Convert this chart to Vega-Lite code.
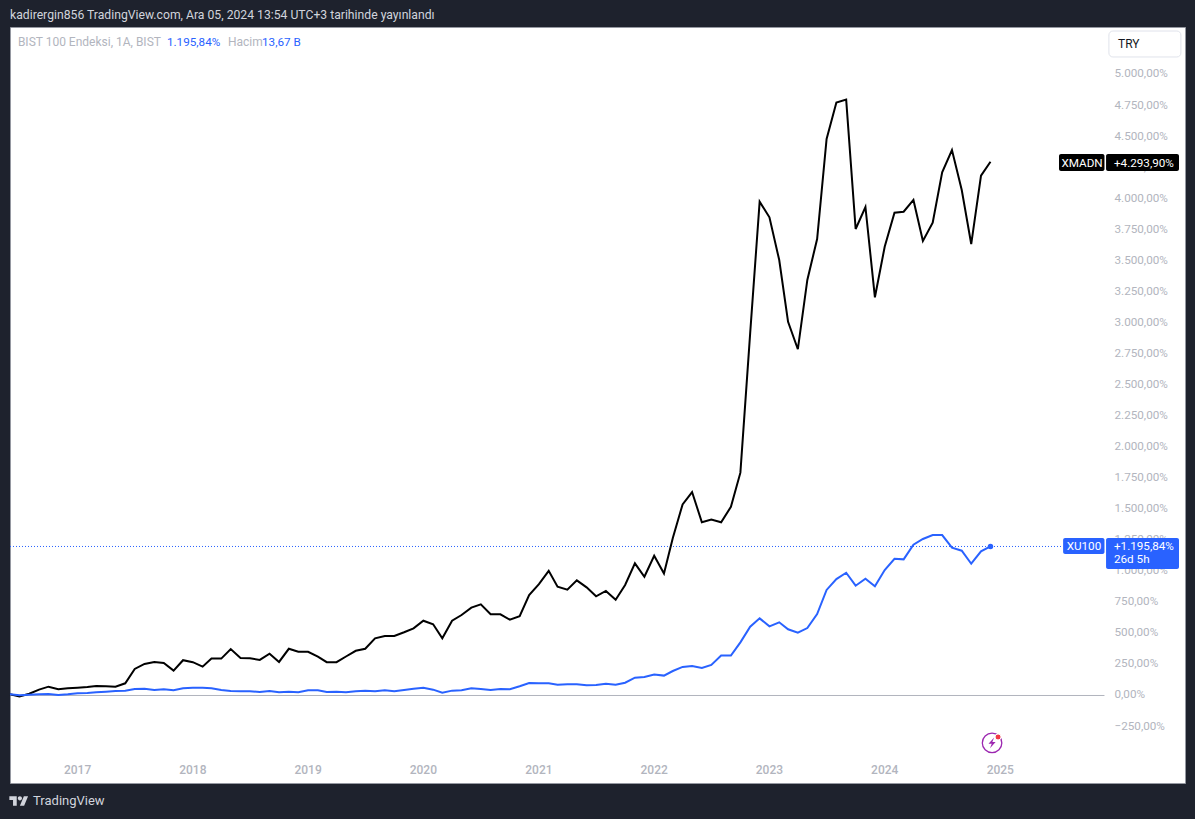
{
  "$schema": "https://vega.github.io/schema/vega-lite/v6.json",
  "width": 1175,
  "height": 756,
  "autosize": "none",
  "padding": {"left": 10, "top": 27, "right": 10, "bottom": 36},
  "background": "#1e222d",
  "view": {"fill": "#ffffff", "stroke": "#9598a1", "strokeWidth": 1},
  "config": {"font": "Roboto"},
  "data": {"name": "prices", "values": [
    {"date": "2016-06-01", "XU100": 6, "XMADN": 6},
    {"date": "2016-07-01", "XU100": -3, "XMADN": -11},
    {"date": "2016-08-01", "XU100": 2, "XMADN": 10},
    {"date": "2016-09-01", "XU100": 6, "XMADN": 43},
    {"date": "2016-10-01", "XU100": 8, "XMADN": 67},
    {"date": "2016-11-01", "XU100": 0, "XMADN": 46},
    {"date": "2016-12-01", "XU100": 6, "XMADN": 54},
    {"date": "2017-01-01", "XU100": 14, "XMADN": 59},
    {"date": "2017-02-01", "XU100": 16, "XMADN": 64},
    {"date": "2017-03-01", "XU100": 22, "XMADN": 73},
    {"date": "2017-04-01", "XU100": 27, "XMADN": 70},
    {"date": "2017-05-01", "XU100": 32, "XMADN": 67},
    {"date": "2017-06-01", "XU100": 35, "XMADN": 94},
    {"date": "2017-07-01", "XU100": 48, "XMADN": 210},
    {"date": "2017-08-01", "XU100": 51, "XMADN": 250},
    {"date": "2017-09-01", "XU100": 40, "XMADN": 266},
    {"date": "2017-10-01", "XU100": 46, "XMADN": 258},
    {"date": "2017-11-01", "XU100": 38, "XMADN": 196},
    {"date": "2017-12-01", "XU100": 54, "XMADN": 280},
    {"date": "2018-01-01", "XU100": 59, "XMADN": 264},
    {"date": "2018-02-01", "XU100": 59, "XMADN": 228},
    {"date": "2018-03-01", "XU100": 54, "XMADN": 293},
    {"date": "2018-04-01", "XU100": 40, "XMADN": 293},
    {"date": "2018-05-01", "XU100": 32, "XMADN": 370},
    {"date": "2018-06-01", "XU100": 30, "XMADN": 298},
    {"date": "2018-07-01", "XU100": 30, "XMADN": 296},
    {"date": "2018-08-01", "XU100": 24, "XMADN": 282},
    {"date": "2018-09-01", "XU100": 32, "XMADN": 332},
    {"date": "2018-10-01", "XU100": 22, "XMADN": 266},
    {"date": "2018-11-01", "XU100": 27, "XMADN": 372},
    {"date": "2018-12-01", "XU100": 22, "XMADN": 348},
    {"date": "2019-01-01", "XU100": 38, "XMADN": 348},
    {"date": "2019-02-01", "XU100": 38, "XMADN": 309},
    {"date": "2019-03-01", "XU100": 24, "XMADN": 264},
    {"date": "2019-04-01", "XU100": 27, "XMADN": 264},
    {"date": "2019-05-01", "XU100": 22, "XMADN": 310},
    {"date": "2019-06-01", "XU100": 30, "XMADN": 356},
    {"date": "2019-07-01", "XU100": 35, "XMADN": 372},
    {"date": "2019-08-01", "XU100": 30, "XMADN": 456},
    {"date": "2019-09-01", "XU100": 38, "XMADN": 475},
    {"date": "2019-10-01", "XU100": 30, "XMADN": 475},
    {"date": "2019-11-01", "XU100": 40, "XMADN": 505},
    {"date": "2019-12-01", "XU100": 51, "XMADN": 537},
    {"date": "2020-01-01", "XU100": 59, "XMADN": 598},
    {"date": "2020-02-01", "XU100": 43, "XMADN": 569},
    {"date": "2020-03-01", "XU100": 18, "XMADN": 456},
    {"date": "2020-04-01", "XU100": 35, "XMADN": 598},
    {"date": "2020-05-01", "XU100": 38, "XMADN": 644},
    {"date": "2020-06-01", "XU100": 54, "XMADN": 703},
    {"date": "2020-07-01", "XU100": 48, "XMADN": 730},
    {"date": "2020-08-01", "XU100": 40, "XMADN": 650},
    {"date": "2020-09-01", "XU100": 48, "XMADN": 650},
    {"date": "2020-10-01", "XU100": 46, "XMADN": 606},
    {"date": "2020-11-01", "XU100": 70, "XMADN": 634},
    {"date": "2020-12-01", "XU100": 97, "XMADN": 805},
    {"date": "2021-01-01", "XU100": 94, "XMADN": 892},
    {"date": "2021-02-01", "XU100": 94, "XMADN": 1000},
    {"date": "2021-03-01", "XU100": 83, "XMADN": 872},
    {"date": "2021-04-01", "XU100": 86, "XMADN": 848},
    {"date": "2021-05-01", "XU100": 86, "XMADN": 923},
    {"date": "2021-06-01", "XU100": 78, "XMADN": 867},
    {"date": "2021-07-01", "XU100": 81, "XMADN": 795},
    {"date": "2021-08-01", "XU100": 91, "XMADN": 838},
    {"date": "2021-09-01", "XU100": 83, "XMADN": 767},
    {"date": "2021-10-01", "XU100": 99, "XMADN": 886},
    {"date": "2021-11-01", "XU100": 139, "XMADN": 1060},
    {"date": "2021-12-01", "XU100": 145, "XMADN": 952},
    {"date": "2022-01-01", "XU100": 164, "XMADN": 1121},
    {"date": "2022-02-01", "XU100": 156, "XMADN": 978},
    {"date": "2022-03-01", "XU100": 193, "XMADN": 1264},
    {"date": "2022-04-01", "XU100": 226, "XMADN": 1535},
    {"date": "2022-05-01", "XU100": 234, "XMADN": 1634},
    {"date": "2022-06-01", "XU100": 218, "XMADN": 1391},
    {"date": "2022-07-01", "XU100": 242, "XMADN": 1412},
    {"date": "2022-08-01", "XU100": 317, "XMADN": 1391},
    {"date": "2022-09-01", "XU100": 317, "XMADN": 1515},
    {"date": "2022-10-01", "XU100": 424, "XMADN": 1790},
    {"date": "2022-11-01", "XU100": 550, "XMADN": 2914},
    {"date": "2022-12-01", "XU100": 617, "XMADN": 3972},
    {"date": "2023-01-01", "XU100": 553, "XMADN": 3846},
    {"date": "2023-02-01", "XU100": 585, "XMADN": 3502},
    {"date": "2023-03-01", "XU100": 529, "XMADN": 3005},
    {"date": "2023-04-01", "XU100": 501, "XMADN": 2784},
    {"date": "2023-05-01", "XU100": 539, "XMADN": 3342},
    {"date": "2023-06-01", "XU100": 652, "XMADN": 3671},
    {"date": "2023-07-01", "XU100": 846, "XMADN": 4477},
    {"date": "2023-08-01", "XU100": 933, "XMADN": 4770},
    {"date": "2023-09-01", "XU100": 984, "XMADN": 4794},
    {"date": "2023-10-01", "XU100": 880, "XMADN": 3752},
    {"date": "2023-11-01", "XU100": 936, "XMADN": 3929},
    {"date": "2023-12-01", "XU100": 876, "XMADN": 3202},
    {"date": "2024-01-01", "XU100": 1006, "XMADN": 3609},
    {"date": "2024-02-01", "XU100": 1097, "XMADN": 3883},
    {"date": "2024-03-01", "XU100": 1092, "XMADN": 3891},
    {"date": "2024-04-01", "XU100": 1210, "XMADN": 3986},
    {"date": "2024-05-01", "XU100": 1256, "XMADN": 3655},
    {"date": "2024-06-01", "XU100": 1288, "XMADN": 3803},
    {"date": "2024-07-01", "XU100": 1288, "XMADN": 4208},
    {"date": "2024-08-01", "XU100": 1186, "XMADN": 4388},
    {"date": "2024-09-01", "XU100": 1162, "XMADN": 4066},
    {"date": "2024-10-01", "XU100": 1057, "XMADN": 3631},
    {"date": "2024-11-01", "XU100": 1157, "XMADN": 4181},
    {"date": "2024-12-01", "XU100": 1195.84, "XMADN": 4293.9}
  ], "format": {"parse": {"date": "date"}}},
  "encoding": {
    "x": {
      "field": "date",
      "type": "temporal",
      "title": null,
      "scale": {"domain": [{"year": 2016, "month": 6, "date": 1}, {"year": 2026, "month": 8, "date": 9}]},
      "axis": {
        "orient": "bottom",
        "offset": -14,
        "values": [
          {"year": 2017, "month": 1, "date": 1},
          {"year": 2018, "month": 1, "date": 1},
          {"year": 2019, "month": 1, "date": 1},
          {"year": 2020, "month": 1, "date": 1},
          {"year": 2021, "month": 1, "date": 1},
          {"year": 2022, "month": 1, "date": 1},
          {"year": 2023, "month": 1, "date": 1},
          {"year": 2024, "month": 1, "date": 1},
          {"year": 2025, "month": 1, "date": 1}
        ],
        "format": "%Y",
        "grid": false,
        "ticks": false,
        "domain": false,
        "labelPadding": 0,
        "labelOffset": -0.5,
        "labelBaseline": "middle",
        "labelFont": "Roboto",
        "labelFontSize": 12,
        "labelFontWeight": 500,
        "labelColor": "#b2b5be",
        "labelOverlap": false
      }
    },
    "y": {
      "field": "value",
      "type": "quantitative",
      "title": null,
      "scale": {"domain": [-708.6, 5378.4], "nice": false, "zero": false},
      "axis": {
        "orient": "right",
        "offset": -71,
        "values": [-250, 0, 250, 500, 750, 1000, 1250, 1500, 1750, 2000, 2250, 2500, 2750, 3000, 3250, 3500, 3750, 4000, 4250, 4500, 4750, 5000],
        "labelExpr": "replace(replace(replace(format(datum.value,',.2f'),',','#'),'.',','),'#','.')+'%'",
        "grid": false,
        "ticks": false,
        "domain": false,
        "labelPadding": 0,
        "labelOffset": -1,
        "labelFont": "Roboto",
        "labelFontSize": 11.7,
        "labelColor": "#b2b5be",
        "labelOverlap": false
      }
    }
  },
  "layer": [
    {
      "data": {"values": [{"date": "2016-06-01", "date2": "2025-11-27", "value": 0}], "format": {"parse": {"date": "date", "date2": "date"}}},
      "mark": {"type": "rule", "color": "#b2b5be", "strokeWidth": 1, "yOffset": 0.5},
      "encoding": {"x2": {"field": "date2"}}
    },
    {
      "data": {"values": [{"date": "2016-06-01", "date2": "2025-07-19", "value": 1195.84}], "format": {"parse": {"date": "date", "date2": "date"}}},
      "mark": {"type": "rule", "color": "#2962ff", "strokeWidth": 1, "strokeDash": [1, 2]},
      "encoding": {"x2": {"field": "date2"}}
    },
    {
      "mark": {"type": "line", "color": "#000000", "strokeWidth": 2, "strokeJoin": "miter"},
      "encoding": {"y": {"field": "XMADN", "type": "quantitative"}}
    },
    {
      "mark": {"type": "line", "color": "#2962ff", "strokeWidth": 2, "strokeJoin": "miter"},
      "encoding": {"y": {"field": "XU100", "type": "quantitative"}}
    },
    {
      "data": {"values": [{"date": "2024-12-01", "value": 1195.84}], "format": {"parse": {"date": "date"}}},
      "mark": {"type": "point", "shape": "circle", "filled": true, "opacity": 1, "color": "#2962ff", "size": 30}
    },
    {
      "data": {"values": [
        {"date": "2025-07-06", "date2": "2025-11-27", "value": 4356, "value2": 4219},
        {"date": "2025-12-02", "date2": "2026-07-21", "value": 4356, "value2": 4219}
      ], "format": {"parse": {"date": "date", "date2": "date"}}},
      "mark": {"type": "rect", "color": "#000000", "cornerRadius": 2},
      "encoding": {"x2": {"field": "date2"}, "y2": {"field": "value2"}}
    },
    {
      "data": {"values": [
        {"date": "2025-07-19", "date2": "2025-11-27", "value": 1264, "value2": 1135},
        {"date": "2025-12-02", "date2": "2026-07-21", "value": 1264, "value2": 1014}
      ], "format": {"parse": {"date": "date", "date2": "date"}}},
      "mark": {"type": "rect", "color": "#2962ff", "cornerRadius": 2},
      "encoding": {"x2": {"field": "date2"}, "y2": {"field": "value2"}}
    },
    {
      "data": {"values": [
        {"date": "2025-12-11", "date2": "2026-07-27", "value": 5346, "value2": 5137}
      ], "format": {"parse": {"date": "date", "date2": "date"}}},
      "mark": {"type": "rect", "fill": "#ffffff", "stroke": "#e0e3eb", "strokeWidth": 1, "cornerRadius": 4},
      "encoding": {"x2": {"field": "date2"}, "y2": {"field": "value2"}}
    },
    {
      "data": {"values": [
        {"date": "2025-09-17", "value": 4287, "label": "XMADN"},
        {"date": "2025-09-23", "value": 1200, "label": "XU100"}
      ], "format": {"parse": {"date": "date"}}},
      "mark": {"type": "text", "color": "#ffffff", "font": "Roboto", "fontSize": 11.7, "align": "center", "baseline": "middle"},
      "encoding": {"text": {"field": "label"}}
    },
    {
      "data": {"values": [
        {"date": "2025-12-27", "value": 4287, "label": "+4.293,90%"},
        {"date": "2025-12-27", "value": 1200, "label": "+1.195,84%"},
        {"date": "2025-12-27", "value": 1091, "label": "26d 5h"}
      ], "format": {"parse": {"date": "date"}}},
      "mark": {"type": "text", "color": "#ffffff", "font": "Roboto", "fontSize": 11.7, "align": "left", "baseline": "middle"},
      "encoding": {"text": {"field": "label"}}
    },
    {
      "data": {"values": [{"date": "2026-01-09", "value": 5238, "label": "TRY"}], "format": {"parse": {"date": "date"}}},
      "mark": {"type": "text", "color": "#131722", "font": "Roboto", "fontSize": 12, "align": "left", "baseline": "middle"},
      "encoding": {"text": {"field": "label"}}
    },
    {
      "data": {"values": [{"date": "2016-06-01", "value": 5479, "label": "kadirergin856 TradingView.com, Ara 05, 2024 13:54 UTC+3 tarihinde yayınlandı"}], "format": {"parse": {"date": "date"}}},
      "mark": {"type": "text", "color": "#d1d4dc", "font": "Roboto", "fontSize": 12.2, "align": "left", "baseline": "middle"},
      "encoding": {"text": {"field": "label"}}
    },
    {
      "data": {"values": [
        {"date": "2016-06-26", "value": 5254, "label": "BIST 100 Endeksi, 1A, BIST"},
        {"date": "2018-04-22", "value": 5254, "label": "Hacim"}
      ], "format": {"parse": {"date": "date"}}},
      "mark": {"type": "text", "color": "#b2b5be", "font": "Roboto", "fontSize": 12, "align": "left", "baseline": "middle"},
      "encoding": {"text": {"field": "label"}}
    },
    {
      "data": {"values": [
        {"date": "2017-10-11", "value": 5254, "label": "1.195,84%"},
        {"date": "2018-08-08", "value": 5254, "label": "13,67 B"}
      ], "format": {"parse": {"date": "date"}}},
      "mark": {"type": "text", "color": "#2962ff", "font": "Roboto", "fontSize": 11.7, "align": "left", "baseline": "middle"},
      "encoding": {"text": {"field": "label"}}
    },
    {
      "data": {"values": [{"date": "2016-08-13", "value": -853, "label": "TradingView"}], "format": {"parse": {"date": "date"}}},
      "mark": {"type": "text", "color": "#d1d4dc", "font": "Roboto", "fontSize": 13, "align": "left", "baseline": "middle"},
      "encoding": {"text": {"field": "label"}}
    },
    {
      "data": {"values": [{"date": "2016-06-29", "value": -853}], "format": {"parse": {"date": "date"}}},
      "mark": {
        "type": "point",
        "filled": true,
        "opacity": 1,
        "color": "#d1d4dc",
        "size": 361,
        "shape": "M-0.222 0.5H-0.611V-0.111H-1V-0.5H-0.222ZM0.556 0.5H0.111L0.528 -0.5H0.972ZM-0.111 -0.278a0.222 0.222 0 1 0 0.444 0a0.222 0.222 0 1 0 -0.444 0Z"
      }
    },
    {
      "data": {"values": [{"date": "2024-12-06", "value": -386}], "format": {"parse": {"date": "date"}}},
      "mark": {"type": "point", "shape": "circle", "filled": false, "opacity": 1, "color": "#9c27b0", "strokeWidth": 1.3, "size": 380}
    },
    {
      "data": {"values": [{"date": "2024-12-06", "value": -386}], "format": {"parse": {"date": "date"}}},
      "mark": {
        "type": "point",
        "filled": true,
        "opacity": 1,
        "color": "#9c27b0",
        "size": 140,
        "shape": "M0.35 -0.9L-0.6 0.15H-0.05L-0.35 0.9L0.6 -0.15H0.05Z"
      }
    },
    {
      "data": {"values": [{"date": "2024-12-25", "value": -338}], "format": {"parse": {"date": "date"}}},
      "mark": {"type": "point", "shape": "circle", "filled": true, "opacity": 1, "fill": "#f23645", "stroke": "#ffffff", "strokeWidth": 1, "size": 36}
    }
  ]
}
